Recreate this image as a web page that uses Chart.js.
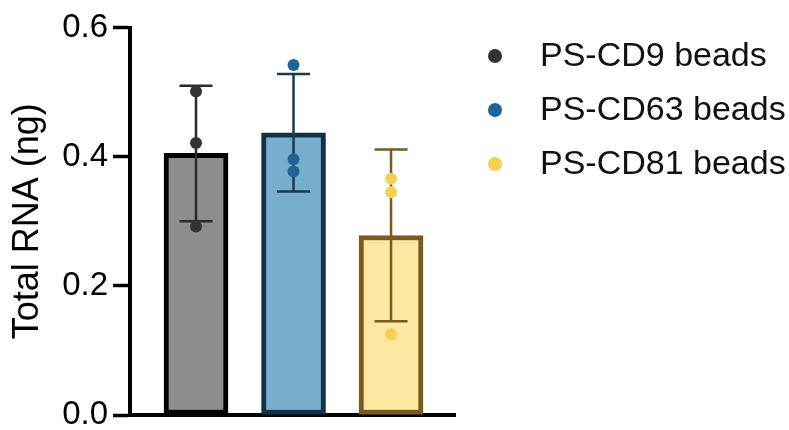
<!DOCTYPE html>
<html>
<head>
<meta charset="utf-8">
<script src="https://cdn.jsdelivr.net/npm/chart.js@4.4.1/dist/chart.umd.min.js"></script>
<style>
  html, body { margin: 0; padding: 0; background: #ffffff; }
  #wrap { width: 789px; height: 430px; }
</style>
</head>
<body>
<div id="wrap"><canvas id="rna" width="789" height="430"></canvas></div>
<script>
// Bead types (one bar each, also the legend entries)
const categories = ['PS-CD9 beads', 'PS-CD63 beads', 'PS-CD81 beads'];
// Mean total RNA per bead type (ng) and standard deviation
const meanRNA = [0.405, 0.437, 0.278];
const sdRNA = [0.105, 0.091, 0.133];
// Individual replicate measurements (ng)
const cd9Reps = [0.501, 0.421, 0.292];
const cd63Reps = [0.542, 0.396, 0.377];
const cd81Reps = [0.366, 0.345, 0.125];
// Y axis tick values
const yTicks = [0.0, 0.2, 0.4, 0.6];

// Colours per bead type
const barFill = ['#8d8d8d', '#76aecb', '#fce8a1'];
const barEdge = ['#000000', '#11314a', '#7a5b1f'];
const dotColor = ['#333333', '#1f6399', '#f6d04e'];
const whiskerColor = ['#2b2b2b', '#1b3a51', '#7a5b1f'];

const FONT = '"Liberation Sans", Arial, Helvetica, sans-serif';

const replicateSets = [cd9Reps, cd63Reps, cd81Reps];
const replicatePoints = [];
const replicateColors = [];
replicateSets.forEach((reps, i) => {
  reps.forEach(v => {
    replicatePoints.push({ x: i + 1, y: v });
    replicateColors.push(dotColor[i]);
  });
});

// Mean ± SD whiskers, drawn right after the bars so the dots sit on top
const errorBars = {
  id: 'errorBars',
  afterDatasetDraw(chart, args) {
    if (args.index !== 0) return;
    const { ctx, scales: { x, y } } = chart;
    ctx.save();
    ctx.lineWidth = 2.5;
    ctx.lineCap = 'butt';
    meanRNA.forEach((m, i) => {
      const px = x.getPixelForValue(i + 1);
      const top = y.getPixelForValue(m + sdRNA[i]);
      const bot = y.getPixelForValue(m - sdRNA[i]);
      const half = 16.5;
      ctx.strokeStyle = whiskerColor[i];
      ctx.beginPath();
      ctx.moveTo(px, top); ctx.lineTo(px, bot);
      ctx.moveTo(px - half, top); ctx.lineTo(px + half, top);
      ctx.moveTo(px - half, bot); ctx.lineTo(px + half, bot);
      ctx.stroke();
    });
    ctx.restore();
  }
};

// Legend on the right: coloured dot + bead name
const sideLegend = {
  id: 'sideLegend',
  afterDraw(chart, args, opts) {
    const { ctx } = chart;
    ctx.save();
    ctx.font = opts.fontSize + 'px ' + FONT;
    ctx.textBaseline = 'middle';
    ctx.textAlign = 'left';
    categories.forEach((name, i) => {
      const cy = opts.top + i * opts.step;
      ctx.fillStyle = dotColor[i];
      ctx.beginPath();
      ctx.arc(opts.dotX, cy, opts.dotR, 0, Math.PI * 2);
      ctx.fill();
      ctx.fillStyle = '#111111';
      ctx.fillText(name, opts.textX, cy + 1);
    });
    ctx.restore();
  }
};

new Chart(document.getElementById('rna'), {
  type: 'bar',
  data: {
    datasets: [
      {
        type: 'bar',
        label: 'Mean',
        order: 2,
        data: meanRNA.map((m, i) => ({ x: i + 1, y: m })),
        backgroundColor: barFill,
        borderColor: barEdge,
        borderWidth: 5,
        borderSkipped: false,
        barThickness: 64
      },
      {
        type: 'scatter',
        label: 'Replicates',
        order: 1,
        data: replicatePoints,
        pointBackgroundColor: replicateColors,
        pointBorderWidth: 0,
        pointRadius: 6,
        pointHoverRadius: 6
      }
    ]
  },
  options: {
    responsive: false,
    animation: false,
    devicePixelRatio: 1,
    layout: { padding: { left: 0, right: 334, top: 27.5, bottom: 15 } },
    plugins: {
      legend: { display: false },
      tooltip: { enabled: false },
      sideLegend: { dotX: 495, textX: 540, top: 56, step: 54, dotR: 7, fontSize: 34 }
    },
    scales: {
      x: {
        type: 'linear',
        min: 0.323,
        max: 3.656,
        offset: false,
        ticks: { display: false },
        grid: { display: false },
        border: { display: true, color: '#000000', width: 4 },
        afterFit: s => { s.height = 0; }
      },
      y: {
        min: 0,
        max: 0.6,
        afterBuildTicks: s => { s.ticks = yTicks.map(v => ({ value: v })); },
        afterFit: s => { s.width = 130; s.paddingTop = 0; s.paddingBottom = 0; },
        ticks: {
          callback: v => Number(v).toFixed(1),
          color: '#000000',
          padding: 5,
          font: { family: FONT, size: 33, lineHeight: 1 }
        },
        grid: {
          drawOnChartArea: false,
          drawTicks: true,
          tickLength: 17,
          tickWidth: 3.5,
          tickColor: '#000000'
        },
        border: { display: true, color: '#000000', width: 4 },
        title: {
          display: true,
          text: 'Total RNA (ng)',
          color: '#000000',
          padding: { top: 6, bottom: 0 },
          font: { family: FONT, size: 36, lineHeight: 1.2 }
        }
      }
    }
  },
  plugins: [errorBars, sideLegend]
});
</script>
</body>
</html>
